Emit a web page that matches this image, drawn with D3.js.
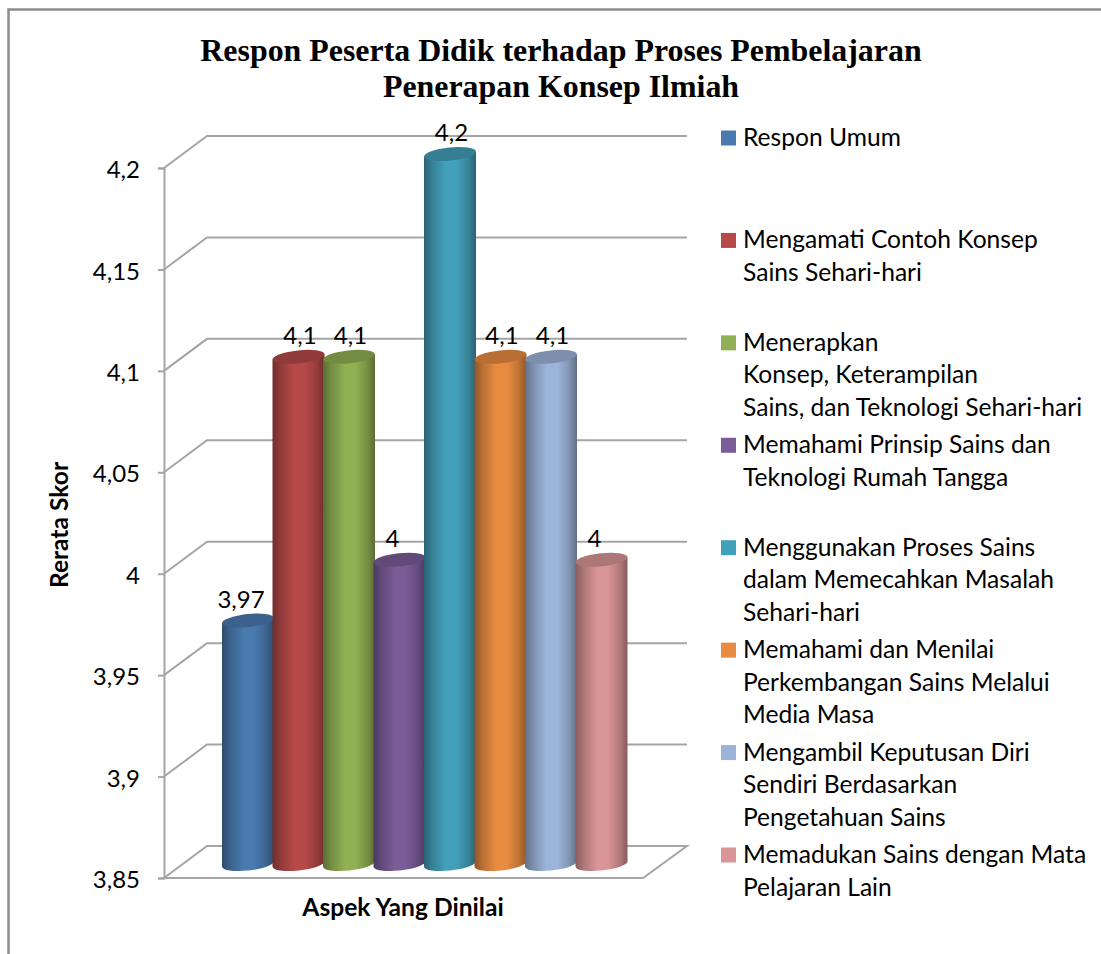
<!DOCTYPE html>
<html>
<head>
<meta charset="utf-8">
<script src="https://cdn.jsdelivr.net/npm/d3@7"></script>
<style>
  html, body { margin: 0; padding: 0; background: #fff; }
  svg { display: block; }
  text { fill: #000; font-family: Lato, sans-serif; }
</style>
</head>
<body>
<svg width="1101" height="954"></svg>
<script>
const titleLines = ["Respon Peserta Didik terhadap Proses Pembelajaran", "Penerapan Konsep Ilmiah"];
const categories = [
  ["Respon Umum"],
  ["Mengamati Contoh Konsep", "Sains Sehari-hari"],
  ["Menerapkan", "Konsep, Keterampilan", "Sains, dan Teknologi Sehari-hari"],
  ["Memahami Prinsip Sains dan", "Teknologi Rumah Tangga"],
  ["Menggunakan Proses Sains", "dalam Memecahkan Masalah", "Sehari-hari"],
  ["Memahami dan Menilai", "Perkembangan Sains Melalui", "Media Masa"],
  ["Mengambil Keputusan Diri", "Sendiri Berdasarkan", "Pengetahuan Sains"],
  ["Memadukan Sains dengan Mata", "Pelajaran Lain"]
];
const values = [3.97, 4.1, 4.1, 4, 4.2, 4.1, 4.1, 4];
const valueLabels = ["3,97", "4,1", "4,1", "4", "4,2", "4,1", "4,1", "4"];
const yTicks = [3.85, 3.9, 3.95, 4, 4.05, 4.1, 4.15, 4.2];
const colors = ["#4a7ab0", "#b54a48", "#91b053", "#7a5c99", "#43a0ba", "#e98c41", "#9db4da", "#da9596"];

const svg = d3.select("svg");

// outer frame, only top and left show
svg.append("path")
  .attr("d", "M1101,9.5H8.5V954")
  .attr("fill", "none")
  .attr("stroke", "#8c8c8c")
  .attr("stroke-width", 2.5);

const y = d3.scaleLinear().domain([3.85, 4.2]).range([878, 168]);
const depthX = 43, depthY = -32;
const frontLeft = 164, frontRight = 643;

// bars sit half way into the depth of the floor
const x = d3.scaleBand().domain(d3.range(values.length)).range([222, 626]);
const barShift = -14;
const barW = x.bandwidth() + 1.5;
const rx = barW / 2, ry = 6.5, tilt = 2.6;

const grid = svg.append("g").attr("fill", "none").attr("stroke", "#a5a5a5").attr("stroke-width", 2);

grid.selectAll("path.wall")
  .data(yTicks.filter(d => d !== 3.85))
  .enter().append("path")
  .attr("class", "wall")
  .attr("d", d => `M${frontLeft},${y(d)}L${frontLeft + depthX},${y(d) + depthY}H${frontRight + depthX + 1}`);

// floor
grid.append("path")
  .attr("d", `M${frontLeft},${y(3.85)}L${frontLeft + depthX},${y(3.85) + depthY}H${frontRight + depthX + 1}L${frontRight},${y(3.85)}Z`);

// y axis
const axis = svg.append("g")
  .attr("transform", `translate(${frontLeft},0)`)
  .call(d3.axisLeft(y).tickValues(yTicks).tickSize(6).tickPadding(18)
    .tickFormat(d => String(d).replace(".", ",")));
axis.selectAll("path, line").attr("stroke", "#a5a5a5").attr("stroke-width", 2);
axis.selectAll("text")
  .attr("y", 2)
  .style("font-size", "24px")
  .style("font-family", "Lato, sans-serif")
  .attr("fill", "#000");

// one horizontal gradient for each bar colour, darker at the edges
const defs = svg.append("defs");
colors.forEach((c, i) => {
  const g = defs.append("linearGradient").attr("id", "bar" + i);
  const stops = [[0, 0.62], [0.16, 0.8], [0.42, 1], [0.62, 1], [0.85, 0.82], [1, 0.62]];
  stops.forEach(s => {
    const col = d3.rgb(c);
    g.append("stop")
      .attr("offset", s[0])
      .attr("stop-color", d3.rgb(col.r * s[1], col.g * s[1], col.b * s[1]));
  });
});

// cylinder outline: straight sides, rounded bottom, tilted like the ground
function cylinder(v, i) {
  const l = x(i), r = l + barW;
  const top = y(v) + barShift, bottom = y(3.85) + barShift;
  return `M${l},${top + tilt}L${l},${bottom + tilt}A${rx},${ry} -6 0 0 ${r},${bottom - tilt}L${r},${top - tilt}Z`;
}

const bars = svg.append("g").selectAll("g")
  .data(values)
  .enter().append("g");

bars.append("path")
  .attr("d", cylinder)
  .attr("fill", (d, i) => `url(#bar${i})`);

bars.append("ellipse")
  .attr("transform", (d, i) => `translate(${x(i) + rx},${y(d) + barShift}) rotate(-6)`)
  .attr("rx", rx)
  .attr("ry", ry)
  .attr("fill", (d, i) => d3.rgb(colors[i]).darker(0.65));

// labels of the shorter bars sit a little left of the bar centre
svg.append("g").selectAll("text")
  .data(values)
  .enter().append("text")
  .attr("x", (d, i) => x(i) + rx + (d <= 4 ? -7 : 1.5))
  .attr("y", d => y(d) + barShift - 13)
  .attr("text-anchor", "middle")
  .style("font-size", "24px")
  .text((d, i) => valueLabels[i]);

// title
svg.append("g").selectAll("text")
  .data(titleLines)
  .enter().append("text")
  .attr("x", 561)
  .attr("y", (d, i) => 61 + i * 36)
  .attr("text-anchor", "middle")
  .style("font-family", "'Liberation Serif', serif")
  .style("font-weight", "bold")
  .style("font-size", "31.9px")
  .text(d => d);

// axis titles
svg.append("text")
  .attr("transform", "translate(68,525) rotate(-90)")
  .attr("text-anchor", "middle")
  .style("font-weight", "bold")
  .style("font-size", "24.6px")
  .text("Rerata Skor");

svg.append("text")
  .attr("x", 403)
  .attr("y", 916)
  .attr("text-anchor", "middle")
  .style("font-weight", "bold")
  .style("font-size", "24.6px")
  .text("Aspek Yang Dinilai");

// legend
const legendY = d3.scaleLinear().domain([0, 7]).range([138, 855]);
const legend = svg.append("g").selectAll("g")
  .data(categories)
  .enter().append("g")
  .attr("transform", (d, i) => `translate(721,${legendY(i)})`);

legend.append("rect")
  .attr("y", -7.5)
  .attr("width", 15)
  .attr("height", 15)
  .attr("fill", (d, i) => colors[i]);

legend.selectAll("text")
  .data(d => d)
  .enter().append("text")
  .attr("x", 22)
  .attr("y", (d, i) => 8 + i * 32.5)
  .style("font-size", "24.6px")
  .text(d => d);
</script>
</body>
</html>
